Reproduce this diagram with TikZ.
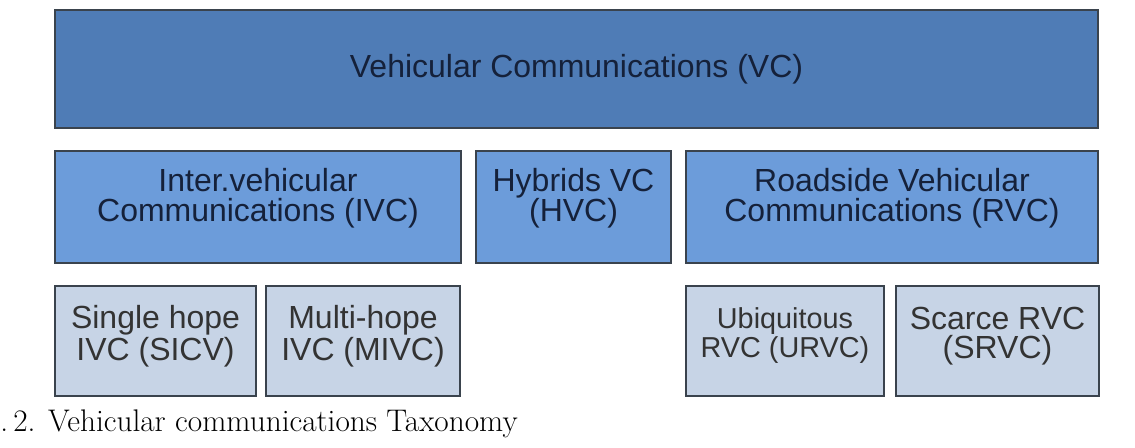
\documentclass[tikz,border=0pt]{standalone}
\usepackage{fontspec}
\setsansfont{Liberation Sans}
\usepackage{tikz}

\definecolor{vcdark}{HTML}{4F7CB6}
\definecolor{vcmid}{HTML}{6C9CDA}
\definecolor{vclight}{HTML}{C7D4E6}
\definecolor{vcline}{HTML}{3A434D}
\definecolor{vctext}{HTML}{15213A}

\begin{document}
\begin{tikzpicture}[x=0.02cm,y=-0.02cm,
    box/.style={draw=vcline,line width=1.1pt,inner sep=0pt,align=center,
      text=vctext,font=\sffamily\fontsize{18.2}{17}\selectfont}]
    \useasboundingbox (0,0) rectangle (1135,448);
    % top level
    \node[box,fill=vcdark,minimum width=1043*0.02cm,minimum height=118*0.02cm] at (576.5,69) (vc) {Vehicular Communications (VC)};%
    % second level
    \foreach \x/\w/\n/\t in {258/406/ivc/{Inter.vehicular\\Communications (IVC)},
        573.5/195/hvc/{Hybrids VC\\(HVC)},
        892/412/rvc/{Roadside Vehicular\\Communications (RVC)}} {%
      \node[box,fill=vcmid,text depth=14pt,minimum width=\w*0.02cm,minimum height=112*0.02cm] at (\x,207) (\n) {\t};%
    };%
    % third level
    \foreach \x/\w/\n/\t in {155.5/201/sicv/{Single hope\\IVC (SICV)},
        363/194/mivc/{Multi-hope\\IVC (MIVC)},
        997.5/203/srvc/{Scarce RVC\\(SRVC)}} {%
      \node[box,fill=vclight,text=black!80,text depth=9.5pt,font=\sffamily\fontsize{18.2}{16.8}\selectfont,
        minimum width=\w*0.02cm,minimum height=110*0.02cm] at (\x,341) (\n) {\t};%
    };%
    \node[box,fill=vclight,text=black!80,text depth=9.5pt,font=\sffamily\fontsize{16.4}{16.8}\selectfont,
      minimum width=198*0.02cm,minimum height=110*0.02cm] at (785,341) (urvc) {Ubiquitous\\RVC (URVC)};%
    % caption
    \node[anchor=base west,inner sep=0pt,font=\fontsize{17.8}{19}\selectfont] at (0,432) (caption) {.\,2. Vehicular communications Taxonomy};%
  \end{tikzpicture}
\end{document}
